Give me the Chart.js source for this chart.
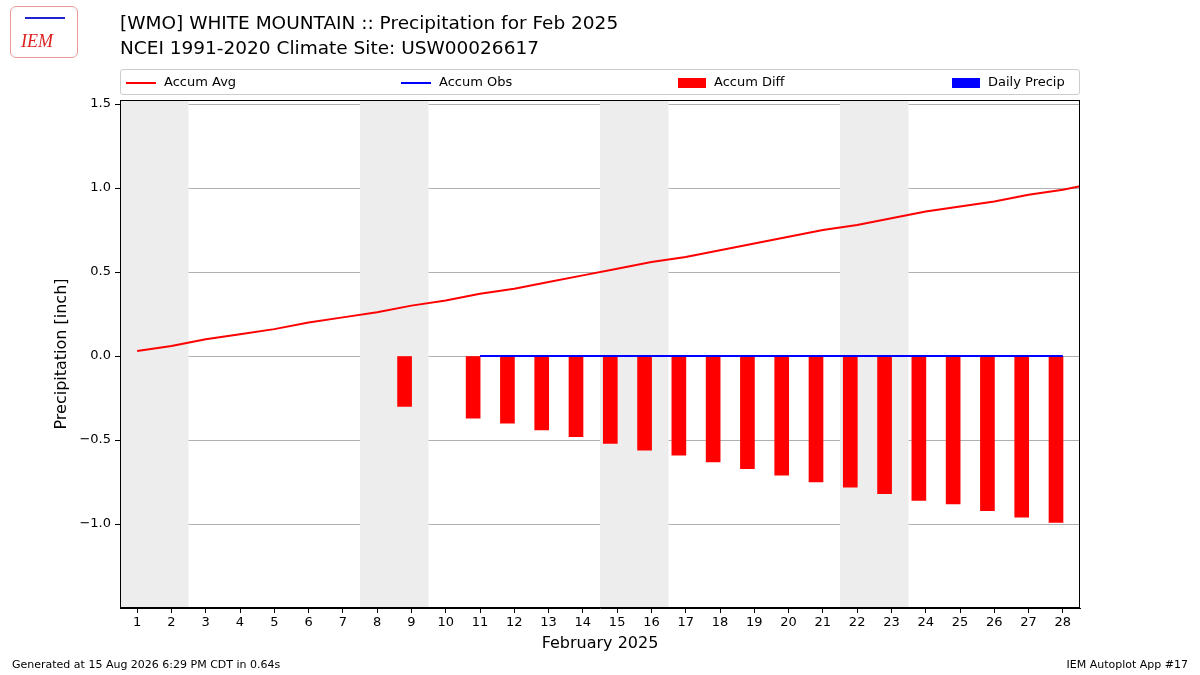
<!DOCTYPE html>
<html>
<head>
<script src="https://cdn.jsdelivr.net/npm/chart.js"></script>
<style>
  body { margin: 0; width: 1200px; height: 675px; position: relative; font-family: "DejaVu Sans", sans-serif; background: #fff; overflow: hidden; }
  #wrap { position: absolute; left: 0; top: 0; width: 1200px; height: 675px; }
  .t { position: absolute; color: #000; white-space: nowrap; }
  .legend { position: absolute; left: 120px; top: 69px; width: 960px; height: 26px; border: 1px solid #ccc; border-radius: 3px; box-sizing: border-box; font-size: 13px; }
  .li { position: absolute; top: 4px; }
  .sw { display: inline-block; vertical-align: middle; margin-right: 8px; }
  .logo { position: absolute; left: 10px; top: 6px; width: 66px; height: 50px; border: 1px solid #e99; border-radius: 6px; color: #d22; font: italic 18px "Liberation Serif", serif; }
</style>
</head>
<body>
<div id="wrap"><canvas id="c" width="1200" height="675"></canvas></div>
<div class="logo"><span style="position:absolute;left:10px;top:24px">IEM</span><span style="position:absolute;left:14px;top:10px;width:40px;height:2px;background:#22c"></span></div>
<div class="t" style="left:120px;top:12px;font-size:18.5px">[WMO] WHITE MOUNTAIN :: Precipitation for Feb 2025</div>
<div class="t" style="left:120px;top:37px;font-size:18.5px">NCEI 1991-2020 Climate Site: USW00026617</div>
<div class="legend">
  <div class="li" style="left:5px"><span class="sw" style="width:30px;height:2px;background:#f00"></span>Accum Avg</div>
  <div class="li" style="left:280px"><span class="sw" style="width:30px;height:2px;background:#00f"></span>Accum Obs</div>
  <div class="li" style="left:557px"><span class="sw" style="width:28px;height:10px;background:#f00"></span>Accum Diff</div>
  <div class="li" style="left:831px"><span class="sw" style="width:28px;height:10px;background:#00f"></span>Daily Precip</div>
</div>
<div class="t" style="left:12px;top:658px;font-size:11px">Generated at 15 Aug 2026 6:29 PM CDT in 0.64s</div>
<div class="t" style="right:12px;top:658px;font-size:11px">IEM Autoplot App #17</div>
<script>
const days = [1,2,3,4,5,6,7,8,9,10,11,12,13,14,15,16,17,18,19,20,21,22,23,24,25,26,27,28];
const avgDays = [1,2,3,4,5,6,7,8,9,10,11,12,13,14,15,16,17,18,19,20,21,22,23,24,25,26,27,28,29];
const accumAvg = [0.03,0.06,0.10,0.13,0.16,0.20,0.23,0.26,0.30,0.33,0.37,0.40,0.44,0.48,0.52,0.56,0.59,0.63,0.67,0.71,0.75,0.78,0.82,0.86,0.89,0.92,0.96,0.99,1.03];
const obsDays = [11,12,13,14,15,16,17,18,19,20,21,22,23,24,25,26,27,28];
const accumObs = [0,0,0,0,0,0,0,0,0,0,0,0,0,0,0,0,0,0];
const diffDays = [9,11,12,13,14,15,16,17,18,19,20,21,22,23,24,25,26,27,28];
const accumDiff = [-0.30,-0.37,-0.40,-0.44,-0.48,-0.52,-0.56,-0.59,-0.63,-0.67,-0.71,-0.75,-0.78,-0.82,-0.86,-0.88,-0.92,-0.96,-0.99];
const weekends = [[0.5,2.5],[7.5,9.5],[14.5,16.5],[21.5,23.5]];
const yTicks = [-1.0,-0.5,0,0.5,1.0,1.5];

const bands = {
  id: 'bands',
  beforeDatasetsDraw(chart) {
    const {ctx, chartArea: a, scales: {x}} = chart;
    ctx.save();
    ctx.fillStyle = '#ededed';
    weekends.forEach(w => {
      const l = Math.max(x.getPixelForValue(w[0]), a.left);
      ctx.fillRect(l, a.top, x.getPixelForValue(w[1]) - l, a.bottom - a.top);
    });
    ctx.restore();
  },
  afterDraw(chart) {
    const {ctx, chartArea: a} = chart;
    ctx.save();
    ctx.strokeStyle = '#000';
    ctx.lineWidth = 1;
    ctx.strokeRect(a.left + 0.5, a.top + 0.5, a.right - a.left - 1, a.bottom - a.top - 1);
    ctx.restore();
  }
};

new Chart(document.getElementById('c'), {
  data: {
    datasets: [
      { type: 'bar', data: diffDays.map((d, i) => ({x: d - 0.2, y: accumDiff[i]})), backgroundColor: '#f00', barThickness: 14, order: 3 },
      { type: 'line', data: avgDays.map((d, i) => ({x: d, y: accumAvg[i]})), borderColor: '#f00', borderWidth: 2, pointRadius: 0, tension: 0, order: 1, clip: 0 },
      { type: 'line', data: obsDays.map((d, i) => ({x: d, y: accumObs[i]})), borderColor: '#00f', borderWidth: 2, pointRadius: 0, order: 2 }
    ]
  },
  options: {
    responsive: false, animation: false,
    layout: { padding: { left: 0, top: 100, right: 120, bottom: 0 } },
    plugins: { legend: { display: false }, tooltip: { enabled: false } },
    scales: {
      x: {
        type: 'linear', min: 0.5, max: 28.5, offset: false,
        afterBuildTicks: s => { s.ticks = days.map(v => ({value: v})); },
        afterFit: s => { s.height = 67; },
        ticks: { color: '#000', font: { size: 13, family: 'DejaVu Sans' }, autoSkip: false, maxRotation: 0, padding: 2 },
        grid: { drawOnChartArea: false, tickLength: 5, color: '#000', offset: false },
        border: { color: '#000' },
        title: { display: true, text: 'February 2025', color: '#000', font: { size: 16, family: 'DejaVu Sans' }, padding: { top: 2, bottom: 22 } }
      },
      y: {
        min: -1.5, max: 1.524,
        afterBuildTicks: s => { s.ticks = yTicks.map(v => ({value: v})); },
        afterFit: s => { s.width = 120; },
        ticks: { color: '#000', font: { size: 13, family: 'DejaVu Sans' }, padding: 4,
          callback: v => v.toFixed(1).replace('-', '\u2212') },
        grid: { color: '#b0b0b0', tickLength: 5, tickColor: '#000' },
        border: { color: '#000' },
        title: { display: true, text: 'Precipitation [inch]', color: '#000', font: { size: 16, family: 'DejaVu Sans' }, padding: { top: 52, bottom: 0 } }
      }
    }
  },
  plugins: [bands]
});
</script>
</body>
</html>
